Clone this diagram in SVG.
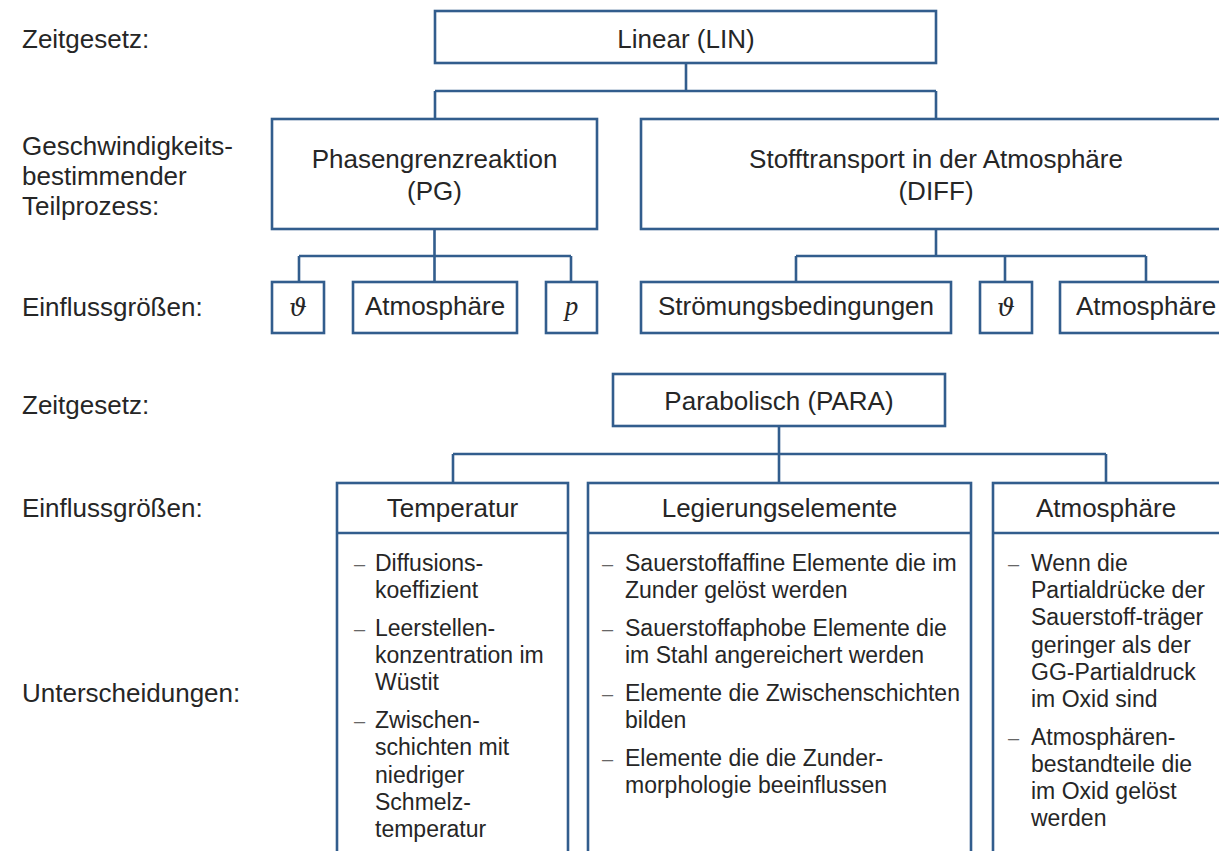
<svg xmlns="http://www.w3.org/2000/svg" width="1219" height="851" viewBox="0 0 1219 851">
<style>
  .box{fill:#fff;stroke:#325d8d;stroke-width:2.6}
  .con{fill:none;stroke:#325d8d;stroke-width:2.6}
  .t{font-family:"Liberation Sans",Arial,sans-serif;font-size:26px;fill:#262626}
  .c{text-anchor:middle}
  .b{font-family:"Liberation Sans",Arial,sans-serif;font-size:23px;fill:#262626}
  .d{font-family:"Liberation Sans",Arial,sans-serif;font-size:20px;fill:#666}
  .m{font-family:"DejaVu Serif","Liberation Serif",serif;font-style:italic;font-size:25px;fill:#262626;text-anchor:middle}
</style>
<rect width="1219" height="851" fill="#fff"/>

<g id="labels">
  <text class="t" x="22" y="48">Zeitgesetz:</text>
  <text class="t" x="22" y="155">Geschwindigkeits-</text>
  <text class="t" x="22" y="185">bestimmender</text>
  <text class="t" x="22" y="215">Teilprozess:</text>
  <text class="t" x="22" y="316">Einflussgrößen:</text>
  <text class="t" x="22" y="414">Zeitgesetz:</text>
  <text class="t" x="22" y="517">Einflussgrößen:</text>
  <text class="t" x="22" y="702">Unterscheidungen:</text>
</g>

<g id="connectors">
  <path class="con" d="M686 63V91M435 91H936M435 91V119M936 91V119"/>
  <path class="con" d="M434.5 229V256M299 256H571M299 256V282M434.5 256V282M571 256V282"/>
  <path class="con" d="M936 229V256M796 256H1146M796 256V282M1005 256V282M1146 256V282"/>
  <path class="con" d="M779 426V454M453 454H1106M453 454V483M779 454V483M1106 454V483"/>
</g>

<g id="linear">
  <rect class="box" x="435" y="11" width="501" height="52"/>
  <text class="t c" x="686" y="48">Linear (LIN)</text>
</g>
<g id="pg">
  <rect class="box" x="272" y="119" width="325" height="110"/>
  <text class="t c" x="434.5" y="168">Phasengrenzreaktion</text>
  <text class="t c" x="434.5" y="200">(PG)</text>
</g>
<g id="diff">
  <rect class="box" x="641" y="119" width="591" height="110"/>
  <text class="t c" x="936" y="168">Stofftransport in der Atmosphäre</text>
  <text class="t c" x="936" y="200">(DIFF)</text>
</g>
<g id="pg-theta">
  <rect class="box" x="272" y="282" width="52" height="51"/>
  <text class="m" x="298" y="316">ϑ</text>
</g>
<g id="pg-atm">
  <rect class="box" x="353" y="282" width="164" height="51"/>
  <text class="t c" x="435" y="315">Atmosphäre</text>
</g>
<g id="pg-p">
  <rect class="box" x="546" y="282" width="51" height="51"/>
  <text class="m" x="571.5" y="315" style="font-family:'Liberation Serif',serif;font-size:27px">p</text>
</g>
<g id="diff-stroem">
  <rect class="box" x="641" y="282" width="310" height="51"/>
  <text class="t c" x="796" y="315">Strömungsbedingungen</text>
</g>
<g id="diff-theta">
  <rect class="box" x="980" y="282" width="52" height="51"/>
  <text class="m" x="1006" y="316">ϑ</text>
</g>
<g id="diff-atm">
  <rect class="box" x="1060" y="282" width="172" height="51"/>
  <text class="t c" x="1146" y="315">Atmosphäre</text>
</g>

<g id="para">
  <rect class="box" x="613" y="374" width="332" height="52"/>
  <text class="t c" x="779" y="410">Parabolisch (PARA)</text>
</g>

<g id="temperatur">
  <rect class="box" x="337" y="483" width="231" height="390"/>
  <line class="con" x1="337" y1="533" x2="568" y2="533"/>
  <text class="t c" x="452.5" y="517">Temperatur</text>
  <text class="d" x="354" y="571">–</text>
  <text class="b" x="375" y="571">Diffusions-</text>
  <text class="b" x="375" y="598.2">koeffizient</text>
  <text class="d" x="354" y="636">–</text>
  <text class="b" x="375" y="636">Leerstellen-</text>
  <text class="b" x="375" y="663.2">konzentration im</text>
  <text class="b" x="375" y="690.4">Wüstit</text>
  <text class="d" x="354" y="728.2">–</text>
  <text class="b" x="375" y="728.2">Zwischen-</text>
  <text class="b" x="375" y="755.4">schichten mit</text>
  <text class="b" x="375" y="782.6">niedriger</text>
  <text class="b" x="375" y="809.8">Schmelz-</text>
  <text class="b" x="375" y="837">temperatur</text>
</g>

<g id="legierung">
  <rect class="box" x="588" y="483" width="383" height="390"/>
  <line class="con" x1="588" y1="533" x2="971" y2="533"/>
  <text class="t c" x="779.5" y="517">Legierungselemente</text>
  <text class="d" x="602" y="571">–</text>
  <text class="b" x="625" y="571">Sauerstoffaffine Elemente die im</text>
  <text class="b" x="625" y="598.2">Zunder gelöst werden</text>
  <text class="d" x="602" y="636">–</text>
  <text class="b" x="625" y="636">Sauerstoffaphobe Elemente die</text>
  <text class="b" x="625" y="663.2">im Stahl angereichert werden</text>
  <text class="d" x="602" y="701">–</text>
  <text class="b" x="625" y="701">Elemente die Zwischenschichten</text>
  <text class="b" x="625" y="728.2">bilden</text>
  <text class="d" x="602" y="766">–</text>
  <text class="b" x="625" y="766">Elemente die die Zunder-</text>
  <text class="b" x="625" y="793.2">morphologie beeinflussen</text>
</g>

<g id="atmosphaere">
  <rect class="box" x="993" y="483" width="232" height="390"/>
  <line class="con" x1="993" y1="533" x2="1225" y2="533"/>
  <text class="t c" x="1106" y="517">Atmosphäre</text>
  <text class="d" x="1008" y="571">–</text>
  <text class="b" x="1031" y="571">Wenn die</text>
  <text class="b" x="1031" y="598.2">Partialdrücke der</text>
  <text class="b" x="1031" y="625.4">Sauerstoff-träger</text>
  <text class="b" x="1031" y="652.6">geringer als der</text>
  <text class="b" x="1031" y="679.8">GG-Partialdruck</text>
  <text class="b" x="1031" y="707">im Oxid sind</text>
  <text class="d" x="1008" y="744.8">–</text>
  <text class="b" x="1031" y="744.8">Atmosphären-</text>
  <text class="b" x="1031" y="772">bestandteile die</text>
  <text class="b" x="1031" y="799.2">im Oxid gelöst</text>
  <text class="b" x="1031" y="826.4">werden</text>
</g>
</svg>
